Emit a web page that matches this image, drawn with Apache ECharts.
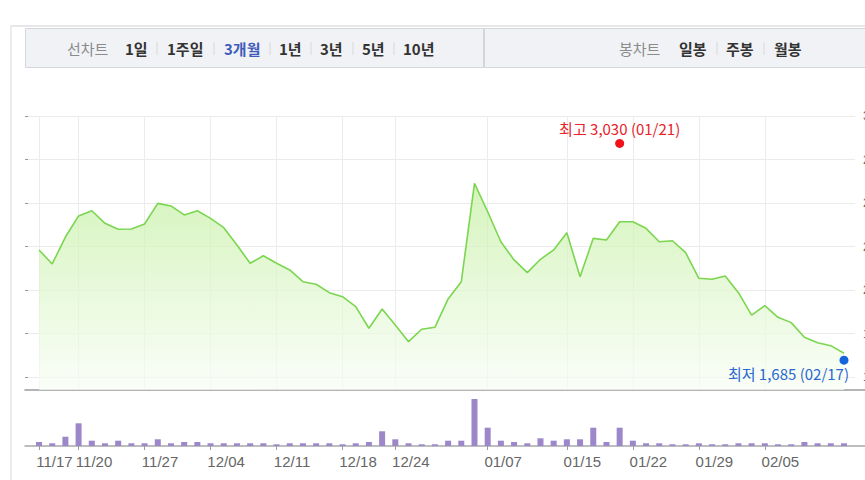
<!DOCTYPE html>
<html>
<head>
<meta charset="utf-8">
<script src="https://cdn.jsdelivr.net/npm/echarts@6/dist/echarts.min.js"></script>
<style>
  html, body { margin: 0; padding: 0; background: #fff; }
  #chart { width: 865px; height: 480px; }
</style>
</head>
<body>
<div id="chart"></div>
<script>
// 거래일
const dates = [
  '11/17', '11/18', '11/19', '11/20', '11/21', '11/24', '11/25', '11/26', '11/27', '11/28',
  '12/01', '12/02', '12/03', '12/04', '12/05', '12/08', '12/09', '12/10', '12/11', '12/12',
  '12/15', '12/16', '12/17', '12/18', '12/19', '12/22', '12/23', '12/24', '12/26', '12/29',
  '12/30', '01/02', '01/05', '01/06', '01/07', '01/08', '01/09', '01/12', '01/13', '01/14',
  '01/15', '01/16', '01/19', '01/20', '01/21', '01/22', '01/23', '01/26', '01/27', '01/28',
  '01/29', '01/30', '02/02', '02/03', '02/04', '02/05', '02/06', '02/09', '02/10', '02/11',
  '02/12', '02/17'
];
// x축에 표시되는 날짜
const labelDates = ['11/17', '11/20', '11/27', '12/04', '12/11', '12/18', '12/24', '01/07', '01/15', '01/22', '01/29', '02/05'];

// 종가
const closePrices = [
  2369, 2282, 2449, 2580, 2612, 2534, 2497, 2499, 2530, 2658,
  2642, 2586, 2612, 2565, 2507, 2400, 2286, 2333, 2286, 2245,
  2172, 2156, 2104, 2079, 2017, 1883, 2003, 1903, 1800, 1877,
  1889, 2065, 2172, 2782, 2606, 2420, 2307, 2228, 2311, 2369,
  2476, 2203, 2441, 2431, 2544, 2544, 2503, 2420, 2426, 2352,
  2193, 2187, 2207, 2104, 1965, 2023, 1951, 1918, 1827, 1793,
  1775, 1728
];

// 거래량 (천주)
const volumes = [
  400, 270, 930, 2270, 530, 270, 530, 270, 270, 670,
  270, 400, 400, 270, 270, 270, 270, 270, 170, 270,
  270, 270, 270, 170, 270, 400, 1470, 670, 270, 170,
  170, 530, 530, 4700, 1830, 530, 400, 270, 770, 530,
  670, 670, 1830, 400, 1830, 530, 270, 270, 170, 170,
  270, 170, 170, 270, 270, 270, 170, 170, 400, 270,
  270, 270
];

// 오른쪽 가격축 눈금 (아래에서 위로)
const priceTicks = ['1,580', '1,850', '2,120', '2,390', '2,660', '2,930', '3,200'];

const highPoint = ['01/21', 3030];
const lowPoint = ['02/17', 1685];

const fmt = (n) => n.toLocaleString('en-US');
const showDate = (idx, value) => labelDates.includes(value);

const chart = echarts.init(document.getElementById('chart'), null, { renderer: 'svg' });

const menuFont = 'bold 15px "Noto Sans CJK KR"';
const menuTitleFont = '15px "Noto Sans CJK KR"';

const option = {
  animation: false,
  backgroundColor: '#fff',
  grid: [
    { left: 25, right: 10, top: 116, bottom: 103, outerBoundsMode: 'none' },   // 가로 눈금선
    { left: 39, right: 21, top: 116, bottom: 90, outerBoundsMode: 'none' },    // 가격
    { left: 25, right: 0, top: 116, bottom: 90, outerBoundsMode: 'none' },     // 가격 바닥선
    { left: 39, right: 21, top: 396, bottom: 34, outerBoundsMode: 'none' },    // 거래량
    { left: 25, right: 0, top: 396, bottom: 34, outerBoundsMode: 'none' }      // 거래량 바닥선
  ],
  xAxis: [
    { gridIndex: 0, type: 'value', show: false },
    {
      gridIndex: 1, type: 'category', data: dates, boundaryGap: false,
      axisLine: { show: false }, axisTick: { show: false }, axisLabel: { show: false },
      splitLine: { show: true, interval: showDate, lineStyle: { color: '#ececec', width: 1 } }
    },
    {
      gridIndex: 2, type: 'value',
      axisLine: { show: true, lineStyle: { color: '#9c9c9c', width: 1.5 } },
      axisTick: { show: false }, axisLabel: { show: false }, splitLine: { show: false }
    },
    {
      gridIndex: 3, type: 'category', data: dates, boundaryGap: false,
      axisLine: { show: false },
      axisTick: { show: true, interval: showDate, length: 4, lineStyle: { color: '#9c9c9c' } },
      axisLabel: {
        interval: showDate, margin: 8, color: '#666', fontSize: 15,
        fontFamily: 'Liberation Sans, Arial, sans-serif',
        align: 'center', padding: [0, 0, 0, 31]
      },
      splitLine: { show: false }
    },
    {
      gridIndex: 4, type: 'value',
      axisLine: { show: true, lineStyle: { color: '#a8a8a8', width: 1.5 } },
      axisTick: { show: false }, axisLabel: { show: false }, splitLine: { show: false }
    }
  ],
  yAxis: [
    {
      gridIndex: 0, type: 'value', min: 0, max: 6, interval: 1, position: 'right', offset: 7,
      axisLine: { show: false },
      axisTick: { show: true, length: 3, lineStyle: { color: '#999' } },
      axisLabel: {
        margin: 1, color: '#666', fontSize: 12, fontFamily: 'Liberation Sans, Arial, sans-serif',
        formatter: (v) => priceTicks[v]
      },
      splitLine: { show: true, lineStyle: { color: '#ebebeb', width: 1 } }
    },
    { gridIndex: 1, type: 'value', min: 1500, max: 3200, show: false },
    { gridIndex: 2, type: 'value', show: false },
    { gridIndex: 3, type: 'value', min: 0, max: 5000, show: false },
    { gridIndex: 4, type: 'value', show: false }
  ],
  series: [
    {
      name: '종가',
      type: 'line',
      xAxisIndex: 1, yAxisIndex: 1,
      data: closePrices,
      symbol: 'none',
      lineStyle: { color: '#7bd64f', width: 1.6 },
      areaStyle: {
        color: new echarts.graphic.LinearGradient(0, 0, 0, 1, [
          { offset: 0, color: '#c3efa0' },
          { offset: 0.6, color: '#e3f8d4' },
          { offset: 1, color: '#f8fdf5' }
        ])
      },
      markPoint: {
        symbol: 'circle',
        symbolSize: 9,
        data: [
          {
            coord: highPoint,
            itemStyle: { color: '#f2121b' },
            label: {
              show: true, position: 'top', distance: 3,
              formatter: '최고 ' + fmt(highPoint[1]) + ' (' + highPoint[0] + ')',
              color: '#e8222a', fontSize: 15, fontFamily: 'Noto Sans CJK KR'
            }
          },
          {
            coord: lowPoint,
            itemStyle: { color: '#1464dc' },
            label: {
              show: true, position: 'bottom', distance: 1, align: 'right', offset: [5, 0],
              formatter: '최저 ' + fmt(lowPoint[1]) + ' (' + lowPoint[0] + ')',
              color: '#2a68d2', fontSize: 15, fontFamily: 'Noto Sans CJK KR'
            }
          }
        ]
      }
    },
    {
      name: '거래량',
      type: 'bar',
      xAxisIndex: 3, yAxisIndex: 3,
      data: volumes,
      barWidth: 6,
      clip: false,
      itemStyle: { color: '#9b87c9' }
    }
  ],
  graphic: [
    { type: 'line', shape: { x1: 10, y1: 26, x2: 865, y2: 26 }, style: { stroke: '#e7e7e7', lineWidth: 2 }, silent: true },
    { type: 'line', shape: { x1: 11, y1: 26, x2: 11, y2: 480 }, style: { stroke: '#ececec', lineWidth: 2 }, silent: true },
    { type: 'rect', shape: { x: 25.5, y: 28.5, width: 845, height: 39 }, style: { fill: '#f1f2f6', stroke: '#d5d7dd', lineWidth: 1 }, silent: true },
    { type: 'line', shape: { x1: 484, y1: 29, x2: 484, y2: 68 }, style: { stroke: '#d3d5db', lineWidth: 2 }, silent: true },
    // 선차트 기간
    { type: 'text', x: 67, y: 48, style: { text: '선차트', fill: '#8b8b8b', font: menuTitleFont, textVerticalAlign: 'middle' } },
    { type: 'text', x: 125, y: 48, style: { text: '1일', fill: '#333', font: menuFont, textVerticalAlign: 'middle' } },
    { type: 'line', shape: { x1: 157, y1: 42, x2: 157, y2: 55 }, style: { stroke: '#d8d8d8', lineWidth: 1 } },
    { type: 'text', x: 167, y: 48, style: { text: '1주일', fill: '#333', font: menuFont, textVerticalAlign: 'middle' } },
    { type: 'line', shape: { x1: 214, y1: 42, x2: 214, y2: 55 }, style: { stroke: '#d8d8d8', lineWidth: 1 } },
    { type: 'text', x: 224, y: 48, style: { text: '3개월', fill: '#3e5cbb', font: menuFont, textVerticalAlign: 'middle' } },
    { type: 'line', shape: { x1: 270, y1: 42, x2: 270, y2: 55 }, style: { stroke: '#d8d8d8', lineWidth: 1 } },
    { type: 'text', x: 279, y: 48, style: { text: '1년', fill: '#333', font: menuFont, textVerticalAlign: 'middle' } },
    { type: 'line', shape: { x1: 311, y1: 42, x2: 311, y2: 55 }, style: { stroke: '#d8d8d8', lineWidth: 1 } },
    { type: 'text', x: 320, y: 48, style: { text: '3년', fill: '#333', font: menuFont, textVerticalAlign: 'middle' } },
    { type: 'line', shape: { x1: 353, y1: 42, x2: 353, y2: 55 }, style: { stroke: '#d8d8d8', lineWidth: 1 } },
    { type: 'text', x: 362, y: 48, style: { text: '5년', fill: '#333', font: menuFont, textVerticalAlign: 'middle' } },
    { type: 'line', shape: { x1: 394, y1: 42, x2: 394, y2: 55 }, style: { stroke: '#d8d8d8', lineWidth: 1 } },
    { type: 'text', x: 403, y: 48, style: { text: '10년', fill: '#333', font: menuFont, textVerticalAlign: 'middle' } },
    // 봉차트
    { type: 'text', x: 619, y: 48, style: { text: '봉차트', fill: '#8b8b8b', font: menuTitleFont, textVerticalAlign: 'middle' } },
    { type: 'text', x: 679, y: 48, style: { text: '일봉', fill: '#333', font: menuFont, textVerticalAlign: 'middle' } },
    { type: 'line', shape: { x1: 717, y1: 42, x2: 717, y2: 55 }, style: { stroke: '#d8d8d8', lineWidth: 1 } },
    { type: 'text', x: 726, y: 48, style: { text: '주봉', fill: '#333', font: menuFont, textVerticalAlign: 'middle' } },
    { type: 'line', shape: { x1: 764, y1: 42, x2: 764, y2: 55 }, style: { stroke: '#d8d8d8', lineWidth: 1 } },
    { type: 'text', x: 774, y: 48, style: { text: '월봉', fill: '#333', font: menuFont, textVerticalAlign: 'middle' } }
  ]
};

chart.setOption(option);

window.addEventListener('resize', () => {
  chart.resize();
});
</script>
</body>
</html>
